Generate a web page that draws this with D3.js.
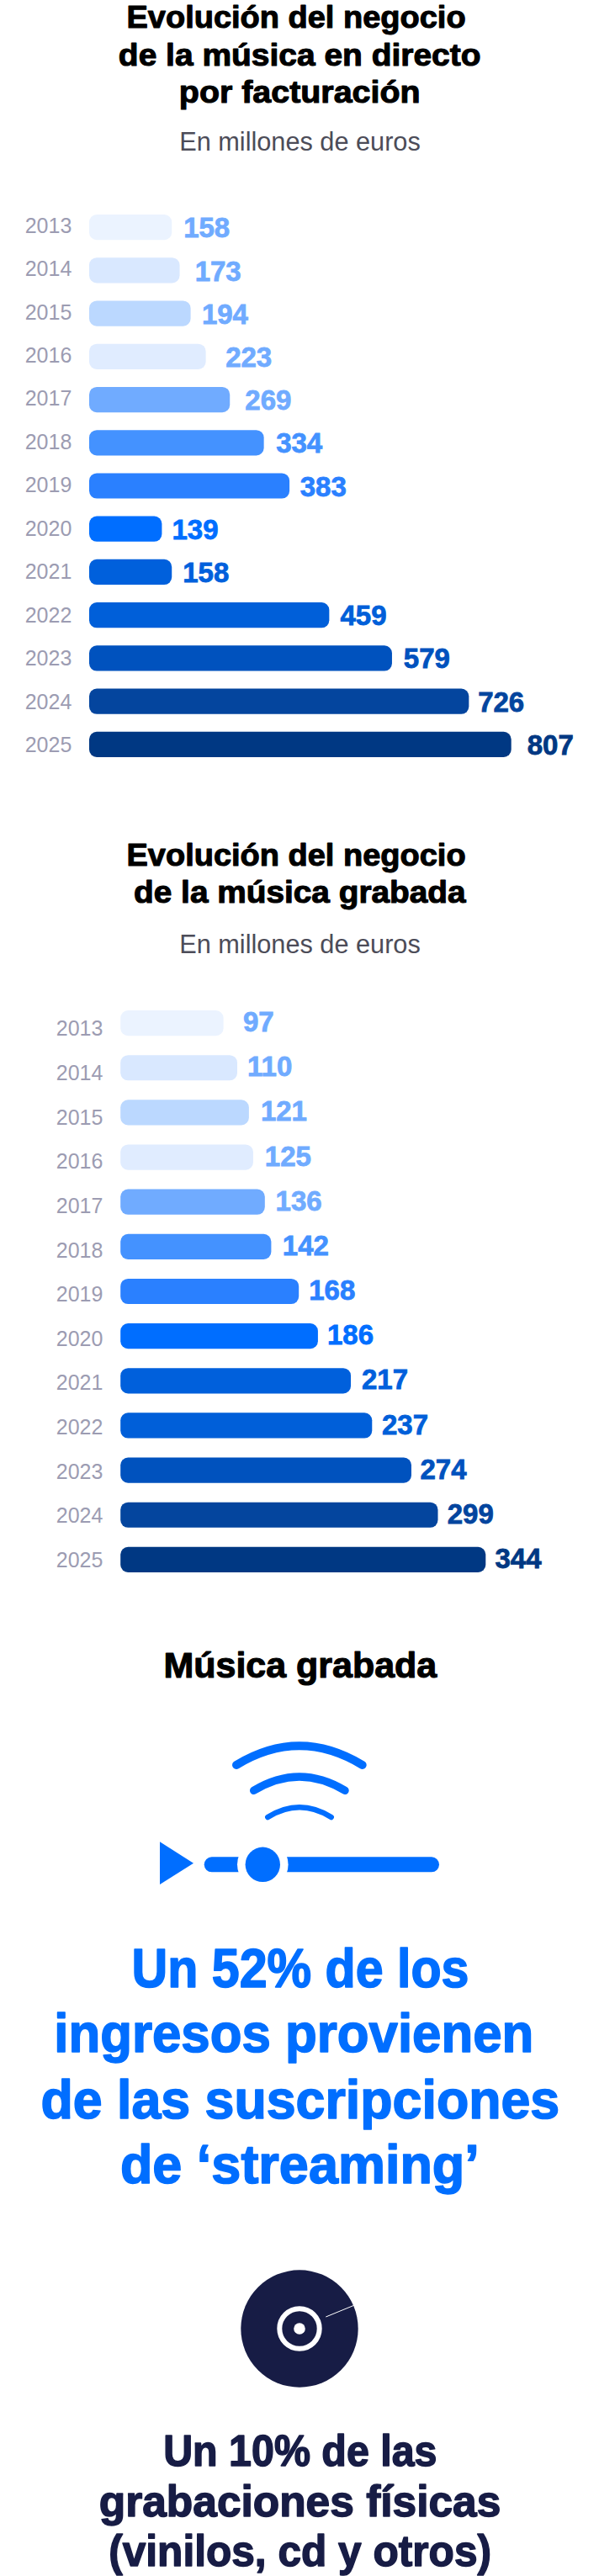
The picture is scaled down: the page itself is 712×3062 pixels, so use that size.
<!DOCTYPE html>
<html lang="es">
<head>
<meta charset="utf-8">
<title>Evolución del negocio de la música</title>
<script src="https://cdn.jsdelivr.net/npm/d3@7"></script>
<style>
  html, body { margin: 0; padding: 0; background: #fff; }
  svg { display: block; }
  text { font-family: "Liberation Sans", Arial, sans-serif; }
</style>
</head>
<body>
<svg id="chart" width="712" height="3062" viewBox="0 0 712 3062"></svg>
<script>
// Data
const years = ["2013","2014","2015","2016","2017","2018","2019","2020","2021","2022","2023","2024","2025"];
const liveRevenue = [158,173,194,223,269,334,383,139,158,459,579,726,807];
const recordedRevenue = [97,110,121,125,136,142,168,186,217,237,274,299,344];
const yearColors = ["#EBF3FF","#D9E8FF","#BBD8FF","#E0ECFF","#70ABFF","#4492FF","#2A80FF","#006EFF","#0060DC","#005FD9","#0052BE","#04459E","#003883"];
const valueLabelColors = ["#70ABFF","#70ABFF","#70ABFF","#70ABFF","#70ABFF","#4492FF","#2A80FF","#006EFF","#0060DC","#005FD9","#0052BE","#04459E","#003883"];

// Hand-set distance between each bar end and its value label
const liveLabelGaps = [13.9,18.1,13.3,23.5,18.1,14.5,12.6,12.1,13,13.1,13.9,10.8,19];
const recordedLabelGaps = [23.4,12,14,13.9,12.8,13.4,12,11.1,12.9,11.7,10.5,11.2,11.2];

const svg = d3.select("#chart");
const BLUE = "#006EFF", NAVY = "#171C45";

// Draws one line of text stretched so its ink runs between two horizontal limits
function fittedLine(g, str, x0, x1, baseline, size, fill, weight, stroke) {
  const bearing = size * 0.025;
  g.append("text")
    .attr("x", x0 - bearing).attr("y", baseline)
    .attr("textLength", x1 - x0 + 2 * bearing).attr("lengthAdjust", "spacingAndGlyphs")
    .attr("font-size", size).attr("font-weight", weight)
    .attr("fill", fill)
    .attr("stroke", stroke ? fill : "none").attr("stroke-width", stroke || 0)
    .attr("stroke-linejoin", "round")
    .text(str);
}

// Horizontal bar chart with a year axis and value labels
function barChart(cfg) {
  const g = svg.append("g");
  const x = d3.scaleLinear().domain([0, cfg.max]).range([cfg.x0, cfg.x1]);
  const y = d3.scaleBand().domain(years).range(cfg.barRange).paddingInner(cfg.pad).paddingOuter(0);
  const yearY = d3.scalePoint().domain(years).range(cfg.yearBaselines);
  const valueY = d3.scalePoint().domain(years).range(cfg.valueBaselines);

  g.selectAll("rect.bar").data(years).join("rect")
    .attr("class", "bar")
    .attr("x", x(0))
    .attr("y", d => y(d))
    .attr("width", (d, i) => x(cfg.values[i]) - x(0))
    .attr("height", y.bandwidth())
    .attr("rx", 9)
    .attr("fill", (d, i) => yearColors[i]);

  const axis = g.append("g")
    .attr("transform", `translate(${cfg.yearX},0)`)
    .call(d3.axisLeft(yearY).tickSize(0).tickPadding(0));
  axis.select(".domain").remove();
  axis.selectAll("text")
    .attr("dy", 0).attr("x", 0)
    .attr("text-anchor", "middle")
    .attr("font-size", 25).attr("fill", "#9C9CB2")
    .style("font-family", '"Liberation Sans", Arial, sans-serif');
  axis.selectAll(".tick").attr("transform", d => `translate(0,${yearY(d)})`);

  g.selectAll("text.value").data(years).join("text")
    .attr("class", "value")
    .attr("x", (d, i) => x(cfg.values[i]) + cfg.gaps[i])
    .attr("y", d => valueY(d))
    .attr("font-size", 33).attr("font-weight", 700)
    .attr("fill", (d, i) => valueLabelColors[i])
    .attr("stroke", (d, i) => valueLabelColors[i]).attr("stroke-width", 0.8)
    .text((d, i) => cfg.values[i]);
}

const header = svg.append("g");
const titleLines = [
  ["Evolución del negocio", 151.4, 552.7, 33.3],
  ["de la música en directo", 141.8, 570.5, 77.7],
  ["por facturación", 213.8, 498.6, 121.7],
  ["Evolución del negocio", 151.4, 552.7, 1029],
  ["de la música grabada", 160, 552.7, 1073],
  ["Música grabada", 195.5, 518.2, 1994]
];
titleLines.forEach(([s, a, b, base]) => fittedLine(header, s, a, b, base, base === 1994 ? 42 : 37.5, "#000", 700, 1.1));
[179, 1132.7].forEach(base => fittedLine(header, "En millones de euros", 214, 499, base, 31, "#4C4C58", 400, 0));

barChart({
  values: liveRevenue, max: 807, x0: 106, x1: 607.7,
  barRange: [255, 900], pad: 0.41,
  yearX: 57.5, yearBaselines: [276.7, 894], valueBaselines: [282.3, 896.7],
  gaps: liveLabelGaps
});
barChart({
  values: recordedRevenue, max: 344, x0: 143.2, x1: 577.3,
  barRange: [1201, 1869], pad: 0.432,
  yearX: 94.6, yearBaselines: [1231.3, 1863], valueBaselines: [1226, 1864],
  gaps: recordedLabelGaps
});

// Streaming icon: signal arcs above a play button and progress slider
const icon = svg.append("g").attr("fill", BLUE);
[[281, 430.7, 2098, 2075.3, 10], [301.7, 410, 2128.3, 2112, 9.5], [318.3, 393.7, 2160, 2148.3, 6.5]]
  .forEach(([a, b, end, apex, w]) => {
    const p = d3.path();
    p.moveTo(a, end);
    p.quadraticCurveTo((a + b) / 2, 2 * apex - end, b, end);
    icon.append("path").attr("d", p.toString()).attr("fill", "none")
      .attr("stroke", BLUE).attr("stroke-width", w).attr("stroke-linecap", "round");
  });
const play = d3.path();
play.moveTo(190, 2189.3); play.lineTo(230, 2214.7); play.lineTo(190, 2240); play.closePath();
icon.append("path").attr("d", play.toString());
icon.append("rect").attr("x", 242.7).attr("y", 2207.3).attr("width", 279.3).attr("height", 18).attr("rx", 9);
icon.append("circle").attr("cx", 312.3).attr("cy", 2216.3).attr("r", 30.3).attr("fill", "#fff");
icon.append("circle").attr("cx", 312.3).attr("cy", 2216.3).attr("r", 20.7);

const streaming = svg.append("g");
[["Un 52% de los", 158.2, 555.9, 2361.7],
 ["ingresos provienen", 65.9, 632.7, 2439],
 ["de las suscripciones", 50, 663.6, 2517.7],
 ["de ‘streaming’", 144.5, 568.2, 2595]
].forEach(([s, a, b, base]) => fittedLine(streaming, s, a, b, base, 65, BLUE, 700, 1.6));

// Disc icon
const disc = svg.append("g");
disc.append("circle").attr("cx", 356).attr("cy", 2768).attr("r", 69.7).attr("fill", NAVY);
disc.append("circle").attr("cx", 356).attr("cy", 2768).attr("r", 23.7).attr("fill", "none")
  .attr("stroke", "#fff").attr("stroke-width", 6);
disc.append("circle").attr("cx", 356).attr("cy", 2768).attr("r", 6.8).attr("fill", "#fff");
disc.append("line").attr("x1", 387.3).attr("y1", 2754).attr("x2", 420.7).attr("y2", 2740.3)
  .attr("stroke", "#fff").attr("stroke-width", 1);

const physical = svg.append("g");
[["Un 10% de las", 195.5, 518.2, 2930.7],
 ["grabaciones físicas", 119.1, 594, 2990.7],
 ["(vinilos, cd y otros)", 130.5, 582.7, 3050]
].forEach(([s, a, b, base]) => fittedLine(physical, s, a, b, base, 52, NAVY, 700, 1.5));
</script>
</body>
</html>
